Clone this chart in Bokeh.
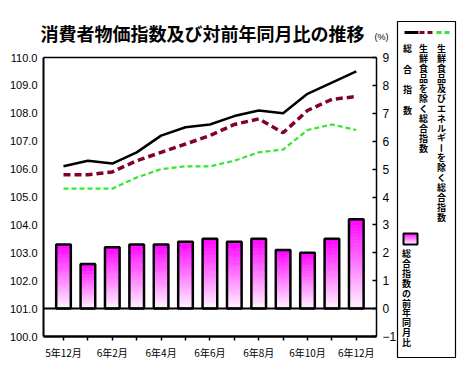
from bokeh.plotting import figure
from bokeh.models import Range1d, LinearAxis, FixedTicker, PrintfTickFormatter
from bokeh.embed import file_html
from bokeh.resources import INLINE
from bokeh.core.properties import value

# ---------------- data ----------------
months = ["5年12月", "6年1月", "6年2月", "6年3月", "6年4月", "6年5月", "6年6月",
          "6年7月", "6年8月", "6年9月", "6年10月", "6年11月", "6年12月"]
cpi_total = [106.1, 106.3, 106.2, 106.6, 107.2, 107.5, 107.6, 107.9, 108.1, 108.0, 108.7, 109.1, 109.5]
cpi_core = [105.8, 105.8, 105.9, 106.3, 106.6, 106.9, 107.2, 107.6, 107.8, 107.3, 108.1, 108.5, 108.6]
cpi_core_core = [105.3, 105.3, 105.3, 105.7, 106.0, 106.1, 106.1, 106.3, 106.6, 106.7, 107.4, 107.6, 107.4]
yoy_total = [2.3, 1.6, 2.2, 2.3, 2.3, 2.4, 2.5, 2.4, 2.5, 2.1, 2.0, 2.5, 3.2]
left_ticks = [100, 101, 102, 103, 104, 105, 106, 107, 108, 109, 110]
right_ticks = [-1, 0, 1, 2, 3, 4, 5, 6, 7, 8, 9]

title_text = "消費者物価指数及び対前年同月比の推移"
unit_text = "(%)"
legend_names = ["総合指数", "生鮮食品を除く総合指数", "生鮮食品及びエネルギーを除く総合指数"]
bar_name = "総合指数の前年同月比"

# ---------------- styles / layout (pixels) ----------------
JP = "Noto Sans CJK JP"
NUM = "Liberation Sans"
COL_TOTAL = "black"
COL_CORE = "#800033"
COL_CC = "#33E633"
TOP_RGB = (255, 0, 255)
BOT_RGB = (255, 246, 255)

W, H = 462, 373
PL, PR, PT, PB = 43, 376, 57, 336      # plot box in canvas pixels
C0, CSTEP = 63.0, 24.4                 # pixel of first category, pixel step
LEFT_LO, LEFT_HI = left_ticks[0], left_ticks[-1]
PCT_SHIFT = LEFT_LO - right_ticks[0]   # left value = pct + shift
YPX = (PB - PT) / (LEFT_HI - LEFT_LO)  # pixels per unit


def dx(px):
    return (px - C0) / CSTEP


def dy(py):
    return LEFT_HI - (py - PT) / YPX


def grad(frac):
    r = [round(b + (t - b) * frac) for b, t in zip(BOT_RGB, TOP_RGB)]
    return "#%02x%02x%02x" % tuple(r)


x = list(range(len(months)))

p = figure(width=W, height=H, output_backend="svg", toolbar_location=None,
           x_range=Range1d(dx(0), dx(W)), y_range=Range1d(dy(H), dy(0)),
           min_border=0, min_border_left=0, min_border_right=0,
           min_border_top=0, min_border_bottom=0,
           background_fill_color="white", border_fill_color="white")
p.extra_y_ranges = {"pct": Range1d(dy(H) - PCT_SHIFT, dy(0) - PCT_SHIFT)}
p.grid.visible = False
p.outline_line_color = None

# bottom axis (drawn at the bottom of the plot box)
xa = p.xaxis[0]
xa.fixed_location = LEFT_LO
xa.bounds = (dx(PL), dx(PR))
xa.ticker = FixedTicker(ticks=x)
xa.major_label_overrides = {i: (m if i % 2 == 0 else "") for i, m in zip(x, months)}
xa.major_label_text_font = JP
xa.major_label_text_font_size = "10px"
xa.major_label_text_color = "black"
xa.major_label_standoff = 4
xa.major_tick_out = 4
xa.major_tick_in = 0
xa.major_tick_line_width = 1.5
xa.minor_tick_line_color = None
xa.axis_line_width = 2.5
xa.axis_line_color = "black"

# left axis
ya = p.yaxis[0]
ya.fixed_location = dx(PL)
ya.bounds = (LEFT_LO, LEFT_HI)
ya.ticker = FixedTicker(ticks=left_ticks)
ya.formatter = PrintfTickFormatter(format="%.1f")
ya.major_label_text_font = NUM
ya.major_label_text_font_size = "11px"
ya.major_label_text_color = "black"
ya.major_label_standoff = 6
ya.major_tick_out = 0
ya.major_tick_in = 0
ya.minor_tick_line_color = None
ya.axis_line_width = 2
ya.axis_line_color = "black"

# right axis (percent)
ra = LinearAxis(y_range_name="pct", ticker=FixedTicker(ticks=right_ticks),
                fixed_location=dx(PR), bounds=(right_ticks[0], right_ticks[-1]))
ra.major_label_text_font = NUM
ra.major_label_text_font_size = "12px"
ra.major_label_text_color = "black"
ra.major_label_standoff = 6
ra.major_tick_out = 0
ra.major_tick_in = 4
ra.major_tick_line_width = 1.5
ra.minor_tick_line_color = None
ra.axis_line_width = 1.5
ra.axis_line_color = "black"
p.add_layout(ra, "right")

# top edge of the plot box
p.segment(x0=[dx(PL)], x1=[dx(PR)], y0=[LEFT_HI], y1=[LEFT_HI], line_color="black", line_width=1.5)

# gradient bars
N = 30
BW = 0.30
L, R, B, T, C = [], [], [], [], []
for i, v in zip(x, yoy_total):
    for k in range(N):
        L.append(i - BW)
        R.append(i + BW)
        B.append(v * k / N)
        T.append(v * (k + 1) / N)
        C.append(grad((k + 0.5) / N))
p.quad(left=L, right=R, bottom=B, top=T, fill_color=C, line_color=C, line_width=0.6,
       y_range_name="pct")
p.quad(left=[i - BW for i in x], right=[i + BW for i in x], bottom=[0] * len(x), top=yoy_total,
       fill_color=None, line_color="black", line_width=2.5, y_range_name="pct")

# zero line of the percentage axis
p.segment(x0=[dx(PL)], x1=[dx(PR)], y0=[0], y1=[0], line_color="black", line_width=2,
          y_range_name="pct")

# lines
p.line(x, cpi_core_core, line_color=COL_CC, line_width=2.2, line_dash="5 3")
p.line(x, cpi_core, line_color=COL_CORE, line_width=3.5, line_dash="7 4")
p.line(x, cpi_total, line_color=COL_TOTAL, line_width=2.5)

# title and unit
p.text(x=[dx(202)], y=[dy(32)], text=[title_text], text_font=value(JP), text_font_size="18px",
       text_font_style="bold", text_align="center", text_baseline="middle", text_color="black")
p.text(x=[dx(381)], y=[dy(36)], text=[unit_text], text_font=value(NUM), text_font_size="9px",
       text_align="center", text_baseline="middle", text_color="black")

# ---------------- legend ----------------
p.quad(left=[dx(397)], right=[dx(455)], top=[dy(21)], bottom=[dy(357)], fill_color=None,
       line_color="black", line_width=1.2)
for (x0, x1), col, dash in [((404, 418), COL_TOTAL, "solid"),
                            ((419, 433), COL_CORE, "5 3"),
                            ((436, 450), COL_CC, "5 3")]:
    p.line([dx(x0), dx(x1)], [dy(32), dy(32)], line_color=col, line_width=3, line_dash=dash)

col_specs = [(407, 48, 20.6), (423, 48, 10.0), (441, 48, 9.94)]
for name, (cx, y0, sp) in zip(legend_names, col_specs):
    chars = list(name)
    p.text(x=[dx(cx)] * len(chars), y=[dy(y0 + j * sp) for j in range(len(chars))], text=chars,
           angle=[90 if ch == "ー" else 0 for ch in chars], angle_units="deg",
           text_font=value(JP), text_font_size="9px", text_font_style="bold",
           text_align="center", text_baseline="middle", text_color="black")

# bar legend swatch with gradient
M = 12
sw_l, sw_r, sw_t, sw_b = 403, 417, 233, 244
cols = [grad(1 - (k + 0.5) / M) for k in range(M)]
p.quad(left=[dx(sw_l)] * M, right=[dx(sw_r)] * M,
       top=[dy(sw_t + (sw_b - sw_t) * k / M) for k in range(M)],
       bottom=[dy(sw_t + (sw_b - sw_t) * (k + 1) / M) for k in range(M)],
       fill_color=cols, line_color=cols, line_width=0.5)
p.quad(left=[dx(sw_l)], right=[dx(sw_r)], top=[dy(sw_t)], bottom=[dy(sw_b)], fill_color=None,
       line_color="black", line_width=2)
bchars = list(bar_name)
p.text(x=[dx(406)] * len(bchars), y=[dy(253 + j * 9.9) for j in range(len(bchars))], text=bchars,
       text_font=value(JP), text_font_size="9px", text_font_style="bold",
       text_align="center", text_baseline="middle", text_color="black")

open("out.html", "w").write(file_html(p, INLINE))
